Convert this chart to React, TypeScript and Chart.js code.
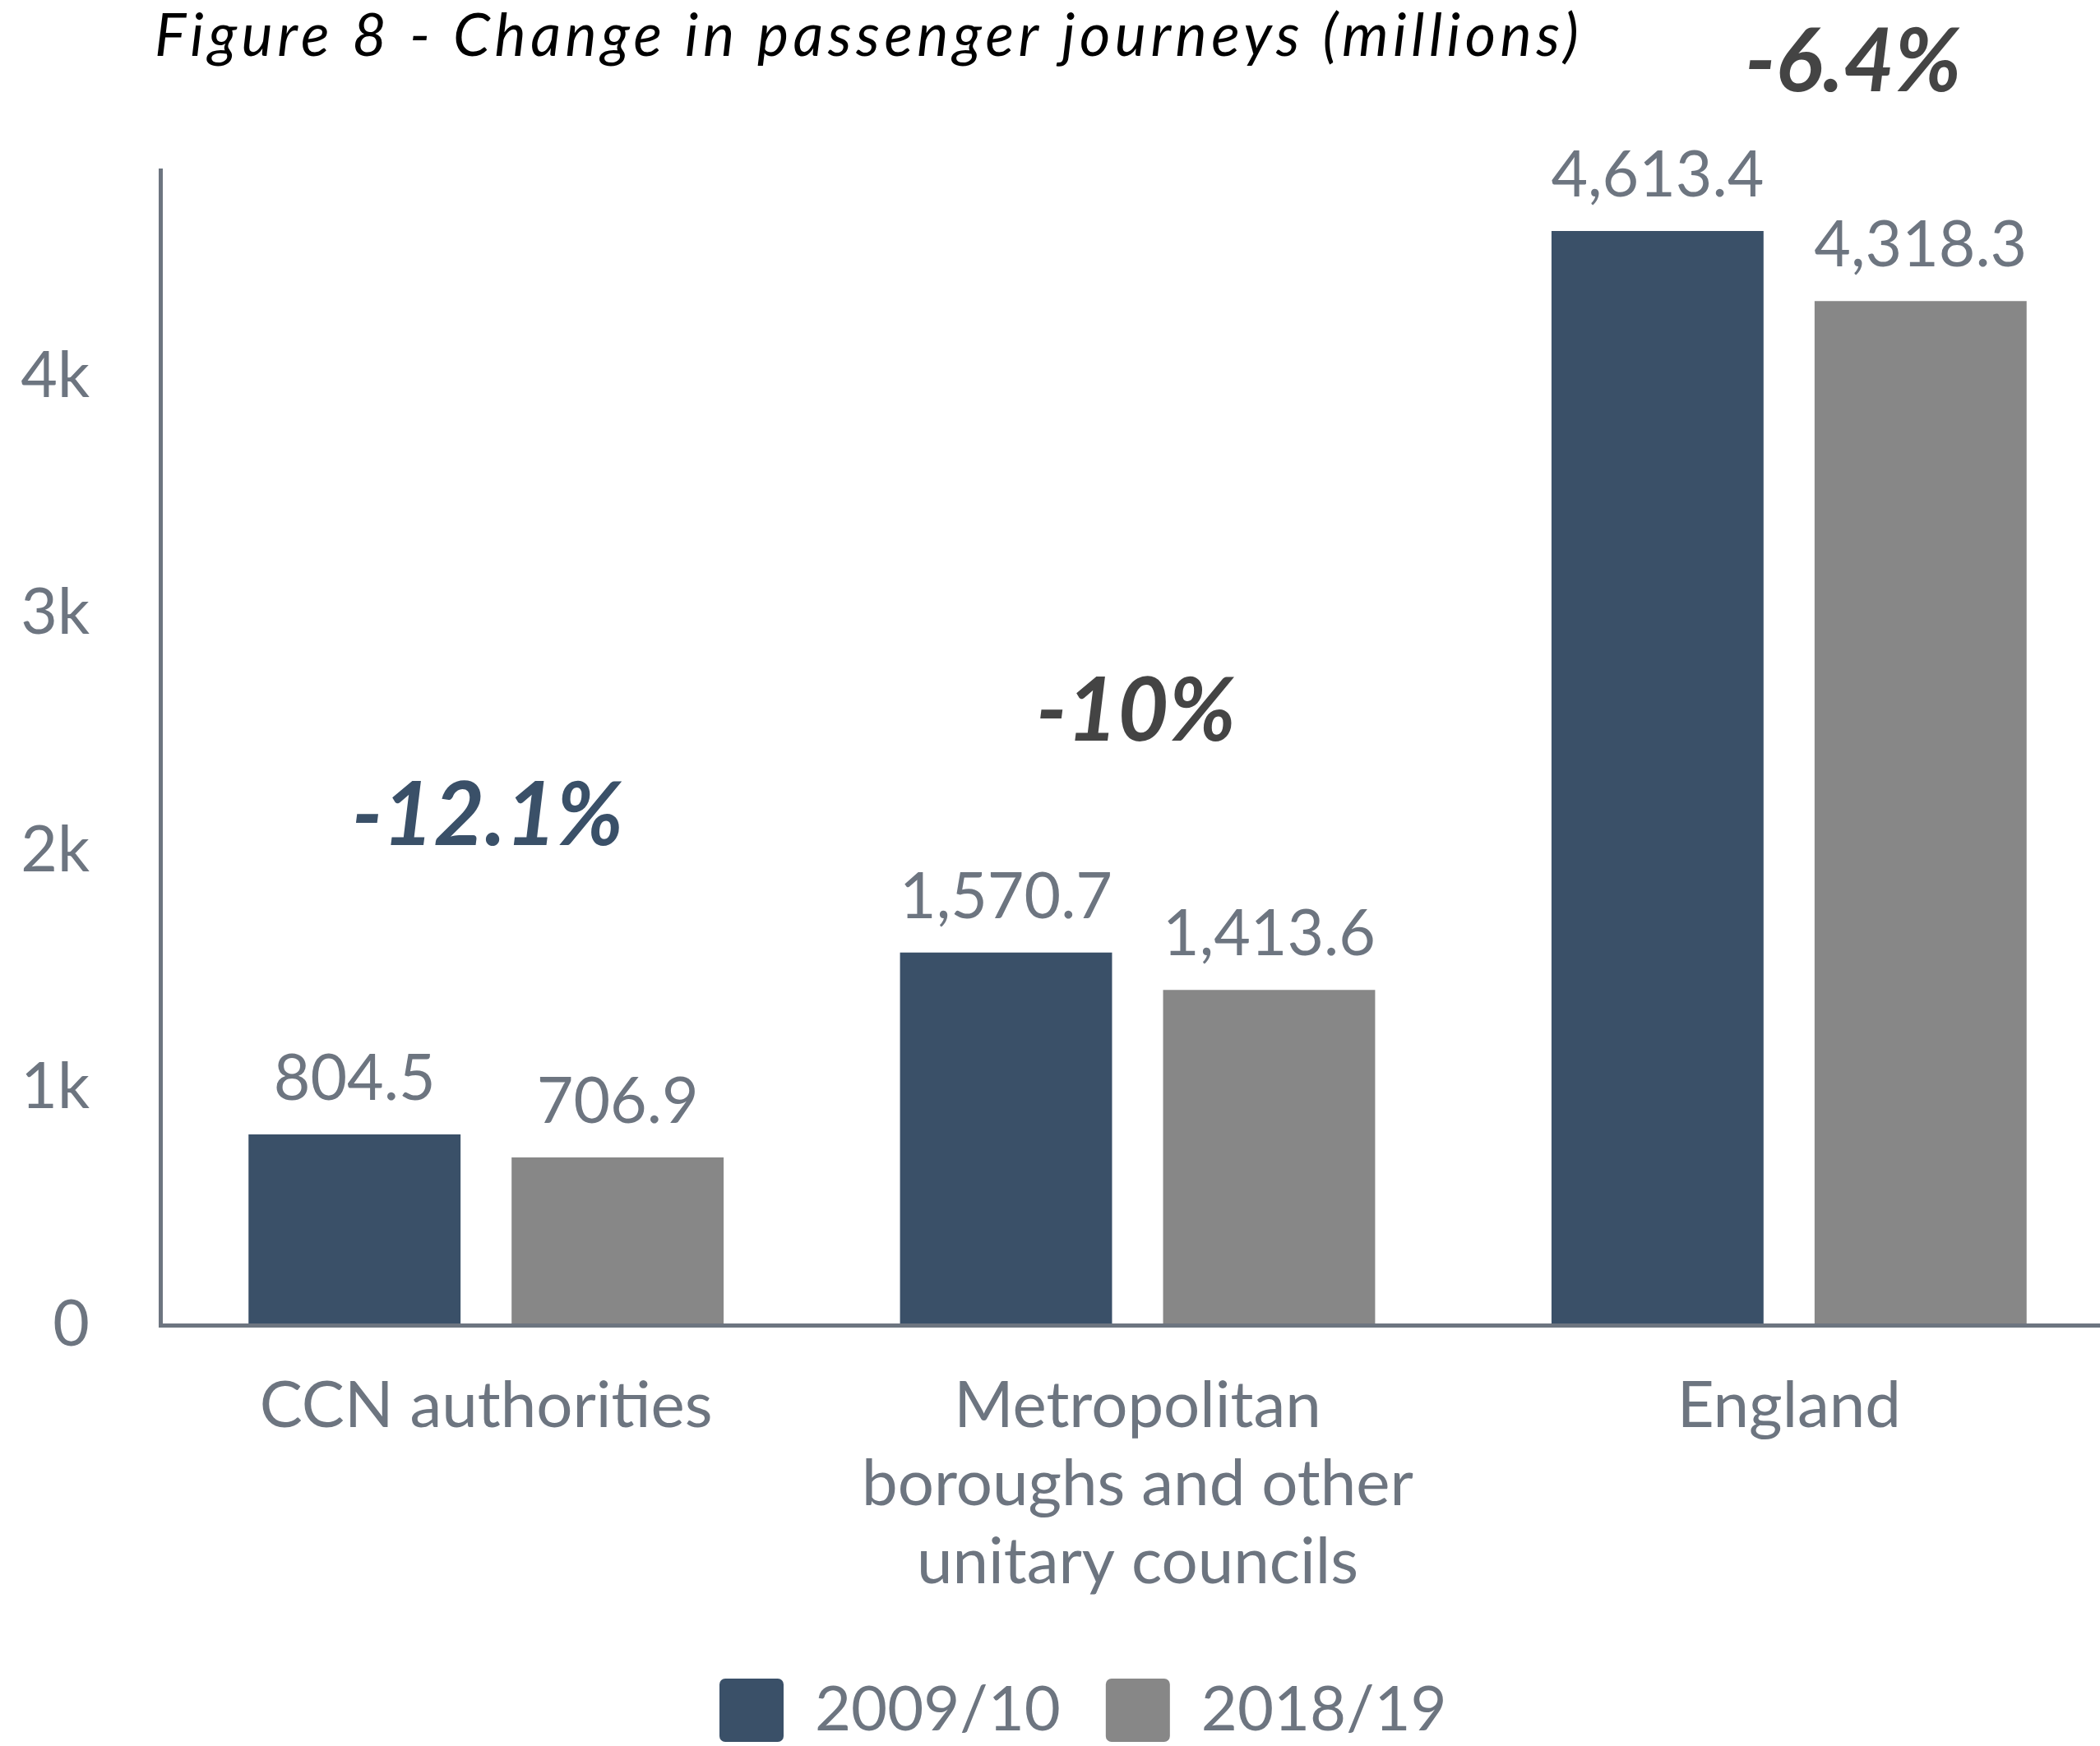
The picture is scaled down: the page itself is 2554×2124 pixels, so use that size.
import React, { useEffect, useRef } from "react";
import { Chart, registerables } from "chart.js";

Chart.register(...registerables);

// ---------- data ----------
const categories: string[][] = [
  ["CCN authorities"],
  ["Metropolitan", "boroughs and other", "unitary councils"],
  ["England"],
];
const seriesNames = ["2009/10", "2018/19"];
const journeys2009 = [804.5, 1570.7, 4613.4];
const journeys2018 = [706.9, 1413.6, 4318.3];
const changeLabels = ["-12.1%", "-10%", "-6.4%"];
const yTickValues = [0, 1000, 2000, 3000, 4000];
const yTickLabels = ["0", "1k", "2k", "3k", "4k"];
const titleText = "Figure 8 - Change in passenger journeys (millions)";

// ---------- style / layout ----------
const W = 2580;
const H = 2124;
const FONT = "Lato, 'Noto Sans', sans-serif";
const TEXT = "#6D7580";
const DARK = "#3A5068";
const GREY = "#878787";
const AXIS_LEFT = 195;
const PLOT_TOP = 207;
const PLOT_BOTTOM = 1612;
const PLOT_RIGHT = 2572;
const Y_MAX = 4870;
const changeColors = [DARK, "#444444", "#444444"];
// anchor of each change label: horizontal offset from category centre, and a y-scale value for its baseline
const changeAnchors = [
  { dx: 2, v: 2024 },
  { dx: -2, v: 2464 },
  { dx: 78, v: 5203 },
];
const LEGEND_BOX_LEFT = 875;
const LEGEND_BOX_TOP = 2042;
const LEGEND_FONT = 76;
const LEGEND_BOX_H = 77;

const fmt = (v: number) =>
  v.toLocaleString("en-US", { minimumFractionDigits: 1, maximumFractionDigits: 1 });

const overlayPlugin = {
  id: "overlay",
  afterUpdate(chart: any) {
    const lg = chart.legend;
    if (lg && lg.legendHitBoxes && lg.legendHitBoxes.length) {
      const hb = lg.legendHitBoxes[0];
      const dx = LEGEND_BOX_LEFT - hb.left;
      const dy = LEGEND_BOX_TOP - Math.max((LEGEND_FONT - LEGEND_BOX_H) / 2, 0) - hb.top;
      lg.left += dx;
      lg.right += dx;
      lg.top += dy;
      lg.bottom += dy;
      lg.legendHitBoxes.forEach((h: any) => {
        h.left += dx;
        h.top += dy;
      });
    }
  },
  afterDatasetsDraw(chart: any) {
    const ctx = chart.ctx;
    ctx.save();
    // value labels above bars
    ctx.font = `400 77px ${FONT}`;
    ctx.fillStyle = TEXT;
    ctx.textAlign = "center";
    ctx.textBaseline = "alphabetic";
    chart.data.datasets.forEach((ds: any, di: number) => {
      const meta = chart.getDatasetMeta(di);
      meta.data.forEach((bar: any, i: number) => {
        ctx.fillText(fmt(ds.data[i]), bar.x, bar.y - 42);
      });
    });
    // change labels
    const xs = chart.scales.x;
    const ys = chart.scales.y;
    ctx.font = `italic 700 107px ${FONT}`;
    changeLabels.forEach((t, i) => {
      ctx.fillStyle = changeColors[i];
      const a = changeAnchors[i];
      ctx.fillText(t, xs.getPixelForValue(i) + a.dx, ys.getPixelForValue(a.v));
    });
    ctx.restore();
  },
  afterDraw(chart: any) {
    const ctx = chart.ctx;
    ctx.save();
    ctx.font = `italic 400 72px ${FONT}`;
    (ctx as any).letterSpacing = "5.5px";
    ctx.fillStyle = "#000000";
    ctx.textAlign = "left";
    ctx.textBaseline = "alphabetic";
    ctx.fillText(titleText, 188, 68);
    ctx.restore();
  },
};

export default function App() {
  const ref = useRef<HTMLCanvasElement | null>(null);

  useEffect(() => {
    if (!ref.current) return;
    const chart = new Chart(ref.current, {
      type: "bar",
      data: {
        labels: categories,
        datasets: [
          {
            label: seriesNames[0],
            data: journeys2009,
            backgroundColor: DARK,
            borderWidth: 0,
            categoryPercentage: 0.8076,
            barPercentage: 0.806,
          },
          {
            label: seriesNames[1],
            data: journeys2018,
            backgroundColor: GREY,
            borderWidth: 0,
            categoryPercentage: 0.8076,
            barPercentage: 0.806,
          },
        ],
      },
      options: {
        animation: false,
        responsive: false,
        devicePixelRatio: 1,
        layout: { padding: { top: PLOT_TOP, left: 0, right: W - PLOT_RIGHT, bottom: 0 } },
        plugins: {
          title: { display: false },
          tooltip: { enabled: false },
          legend: {
            display: true,
            position: "bottom",
            labels: {
              boxWidth: 78,
              boxHeight: LEGEND_BOX_H,
              padding: 55,
              color: TEXT,
              useBorderRadius: true,
              borderRadius: 7,
              font: { family: FONT, size: LEGEND_FONT },
            },
          },
        },
        scales: {
          x: {
            grid: { display: false, drawTicks: false },
            border: { display: true, color: TEXT, width: 5, z: 1 },
            ticks: {
              color: TEXT,
              padding: 51,
              maxRotation: 0,
              autoSkip: false,
              font: { family: FONT, size: 78, lineHeight: 1.22 },
            },
            afterFit: (scale: any) => {
              const lh = scale.chart.legend ? scale.chart.legend.height : 0;
              scale.height = H - PLOT_BOTTOM - lh;
            },
          },
          y: {
            min: 0,
            max: Y_MAX,
            grid: { display: false, drawTicks: false },
            border: { display: true, color: TEXT, width: 5, z: 1 },
            afterBuildTicks: (scale: any) => {
              scale.ticks = yTickValues.map((v) => ({ value: v }));
            },
            ticks: {
              color: TEXT,
              padding: 86,
              font: { family: FONT, size: 77 },
              callback: (v: any) => {
                const idx = yTickValues.indexOf(Number(v));
                return idx >= 0 ? yTickLabels[idx] : "";
              },
            },
            afterFit: (scale: any) => {
              scale.width = AXIS_LEFT;
            },
          },
        },
      },
      plugins: [overlayPlugin],
    } as any);
    return () => chart.destroy();
  }, []);

  return (
    <div
      style={{
        position: "absolute",
        left: 0,
        top: 0,
        width: 2554,
        height: H,
        overflow: "hidden",
        background: "#ffffff",
      }}
    >
      <canvas ref={ref} width={W} height={H} style={{ width: W, height: H, display: "block" }} />
    </div>
  );
}
